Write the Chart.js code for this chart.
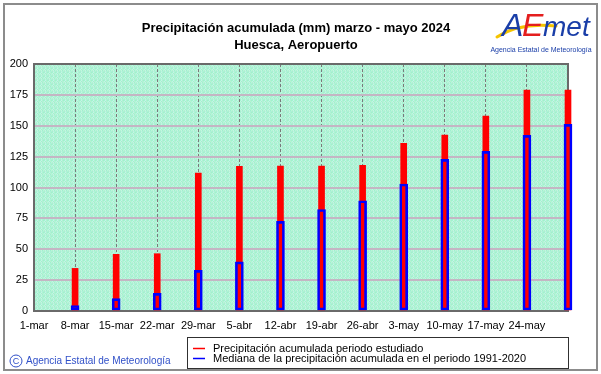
<!DOCTYPE html>
<html>
<head>
<meta charset="utf-8">
<script src="https://cdn.jsdelivr.net/npm/chart.js@4.4.1/dist/chart.umd.min.js"></script>
<style>
  html, body { margin: 0; padding: 0; background: #ffffff; }
  #wrap { width: 601px; height: 374px; position: relative; }
</style>
</head>
<body>
<div id="wrap"><canvas id="c" width="601" height="374"></canvas></div>
<script>
// ---- Data ----
const tickLabels = ['1-mar','8-mar','15-mar','22-mar','29-mar','5-abr','12-abr','19-abr','26-abr','3-may','10-may','17-may','24-may'];
const barDays = [7, 14, 21, 28, 35, 42, 49, 56, 63, 70, 77, 84, 91]; // days since 1 March
const precipEstudiado = [34.5, 45.9, 46.4, 111.7, 117.2, 117.4, 117.4, 118.0, 135.8, 142.5, 157.9, 178.9, 178.9];
const medianaNormal = [4.3, 10.0, 14.3, 32.9, 39.8, 72.6, 82.2, 89.3, 102.8, 122.8, 129.3, 142.2, 151.1];
const seriesLabels = ['Precipitación acumulada periodo estudiado', 'Mediana de la precipitación acumulada en el periodo 1991-2020'];
const titleLines = ['Precipitación acumulada (mm) marzo - mayo 2024', 'Huesca, Aeropuerto'];
const creditText = 'Agencia Estatal de Meteorología';

const FONT = '"Liberation Sans", Arial, sans-serif';

function makePattern(ctx) {
  const p = document.createElement('canvas');
  p.width = 4; p.height = 4;
  const pc = p.getContext('2d');
  const cols = ['#a6f2d0','#c4f6e6','#b2ecd8','#9ef6c8',
                '#c0f8e0','#a4eed4','#b8f4cc','#aef0dc',
                '#b0f4d4','#c6f2e2','#a0f0ce','#baf6d8',
                '#aaead8','#bcf8d4','#a8f4dc','#b4eed0'];
  for (let i = 0; i < 16; i++) {
    pc.fillStyle = cols[i];
    pc.fillRect(i % 4, Math.floor(i / 4), 1, 1);
  }
  return ctx.createPattern(p, 'repeat');
}

const decorPlugin = {
  id: 'decor',
  beforeDraw(chart) {
    const ctx = chart.ctx;
    const a = chart.chartArea;
    ctx.save();
    ctx.fillStyle = '#ffffff';
    ctx.fillRect(0, 0, chart.width, chart.height);
    ctx.fillStyle = makePattern(ctx);
    ctx.fillRect(a.left, a.top, a.right - a.left, a.bottom - a.top);
    ctx.restore();
  },
  beforeDatasetsDraw(chart) {
    const ctx = chart.ctx;
    const a = chart.chartArea;
    ctx.save();
    ctx.strokeStyle = '#6a6a6a';
    ctx.lineWidth = 2;
    ctx.strokeRect(a.left, a.top, a.right - a.left, a.bottom - a.top);
    ctx.restore();
  },
  afterDraw(chart) {
    const ctx = chart.ctx;
    ctx.save();
    // outer frame
    ctx.strokeStyle = '#8c8c8c';
    ctx.lineWidth = 2;
    ctx.strokeRect(4, 4, 593, 366);

    // title
    ctx.fillStyle = '#000000';
    ctx.font = 'bold 13px ' + FONT;
    ctx.textAlign = 'center';
    ctx.textBaseline = 'middle';
    ctx.fillText(titleLines[0], 296, 28);
    ctx.fillText(titleLines[1], 296, 45);

    // legend box
    ctx.fillStyle = '#ffffff';
    ctx.fillRect(187.5, 337.5, 381, 31);
    ctx.strokeStyle = '#303030';
    ctx.lineWidth = 1;
    ctx.strokeRect(187.5, 337.5, 381, 31);
    const colors = ['#ff0000', '#0000ff'];
    const ys = [348, 358];
    ctx.font = '11px ' + FONT;
    ctx.textAlign = 'left';
    for (let i = 0; i < 2; i++) {
      ctx.strokeStyle = colors[i];
      ctx.lineWidth = 1.5;
      ctx.beginPath();
      ctx.moveTo(193, ys[i] + 0.5);
      ctx.lineTo(205, ys[i] + 0.5);
      ctx.stroke();
      ctx.fillStyle = '#000000';
      ctx.fillText(seriesLabels[i], 213, ys[i] + 0.5);
    }

    // credit
    ctx.fillStyle = '#3050c8';
    ctx.strokeStyle = '#3050c8';
    ctx.lineWidth = 1;
    ctx.beginPath();
    ctx.arc(16, 361, 6, 0, Math.PI * 2);
    ctx.stroke();
    ctx.font = '9px ' + FONT;
    ctx.textAlign = 'center';
    ctx.fillText('C', 16, 361.5);
    ctx.font = '10px ' + FONT;
    ctx.textAlign = 'left';
    ctx.fillText(creditText, 26, 361);

    // logo
    ctx.lineCap = 'round';
    ctx.strokeStyle = '#f5c400';
    ctx.lineWidth = 3;
    ctx.beginPath();
    ctx.moveTo(497, 37);
    ctx.quadraticCurveTo(520, 22, 556, 26);
    ctx.stroke();
    ctx.font = 'italic 32px ' + FONT;
    ctx.textAlign = 'left';
    ctx.textBaseline = 'alphabetic';
    ctx.fillStyle = '#1a3ea8';
    ctx.fillText('A', 502, 36);
    ctx.fillStyle = '#e41e1e';
    ctx.fillText('E', 522, 36);
    ctx.fillStyle = '#1a3ea8';
    ctx.font = 'italic 28px ' + FONT;
    ctx.fillText('met', 543, 36);
    ctx.font = '7px ' + FONT;
    ctx.textAlign = 'center';
    ctx.textBaseline = 'middle';
    ctx.fillText('Agencia Estatal de Meteorología', 541, 50);
    ctx.restore();
  }
};

const ctx = document.getElementById('c').getContext('2d');
new Chart(ctx, {
  type: 'bar',
  data: {
    datasets: [
      {
        label: seriesLabels[1],
        data: barDays.map((d, i) => ({ x: d, y: medianaNormal[i] })),
        backgroundColor: 'rgba(0,0,0,0)',
        borderColor: '#0000ff',
        borderWidth: 2,
        borderSkipped: false,
        barThickness: 8,
        grouped: false,
        clip: false
      },
      {
        label: seriesLabels[0],
        data: barDays.map((d, i) => ({ x: d, y: precipEstudiado[i] })),
        backgroundColor: '#ff0000',
        borderWidth: 0,
        barThickness: 6,
        grouped: false,
        clip: false
      }
    ]
  },
  options: {
    responsive: false,
    animation: false,
    events: [],
    layout: { padding: { left: 0, right: 33, top: 64, bottom: 43 } },
    plugins: {
      legend: { display: false },
      title: { display: false },
      tooltip: { enabled: false }
    },
    scales: {
      x: {
        type: 'linear',
        min: 0,
        max: 91,
        offset: false,
        afterFit(scale) { scale.height = 20; },
        afterBuildTicks(scale) {
          const t = [];
          for (let v = 0; v <= 91; v += 7) t.push({ value: v });
          scale.ticks = t;
        },
        ticks: {
          autoSkip: false,
          maxRotation: 0,
          padding: 8,
          color: '#000000',
          font: { family: FONT, size: 11 },
          callback: (v, i) => tickLabels[i] || ''
        },
        grid: { color: '#7a7a7a', lineWidth: 1, drawTicks: false, offset: false },
        border: { display: false, dash: [3, 2] }
      },
      y: {
        min: 0,
        max: 200,
        afterFit(scale) { scale.width = 34; },
        ticks: {
          stepSize: 25,
          padding: 6,
          color: '#000000',
          font: { family: FONT, size: 11 }
        },
        grid: { color: '#c4b6c4', lineWidth: 2, drawTicks: false },
        border: { display: false }
      }
    }
  },
  plugins: [decorPlugin]
});
</script>
</body>
</html>
